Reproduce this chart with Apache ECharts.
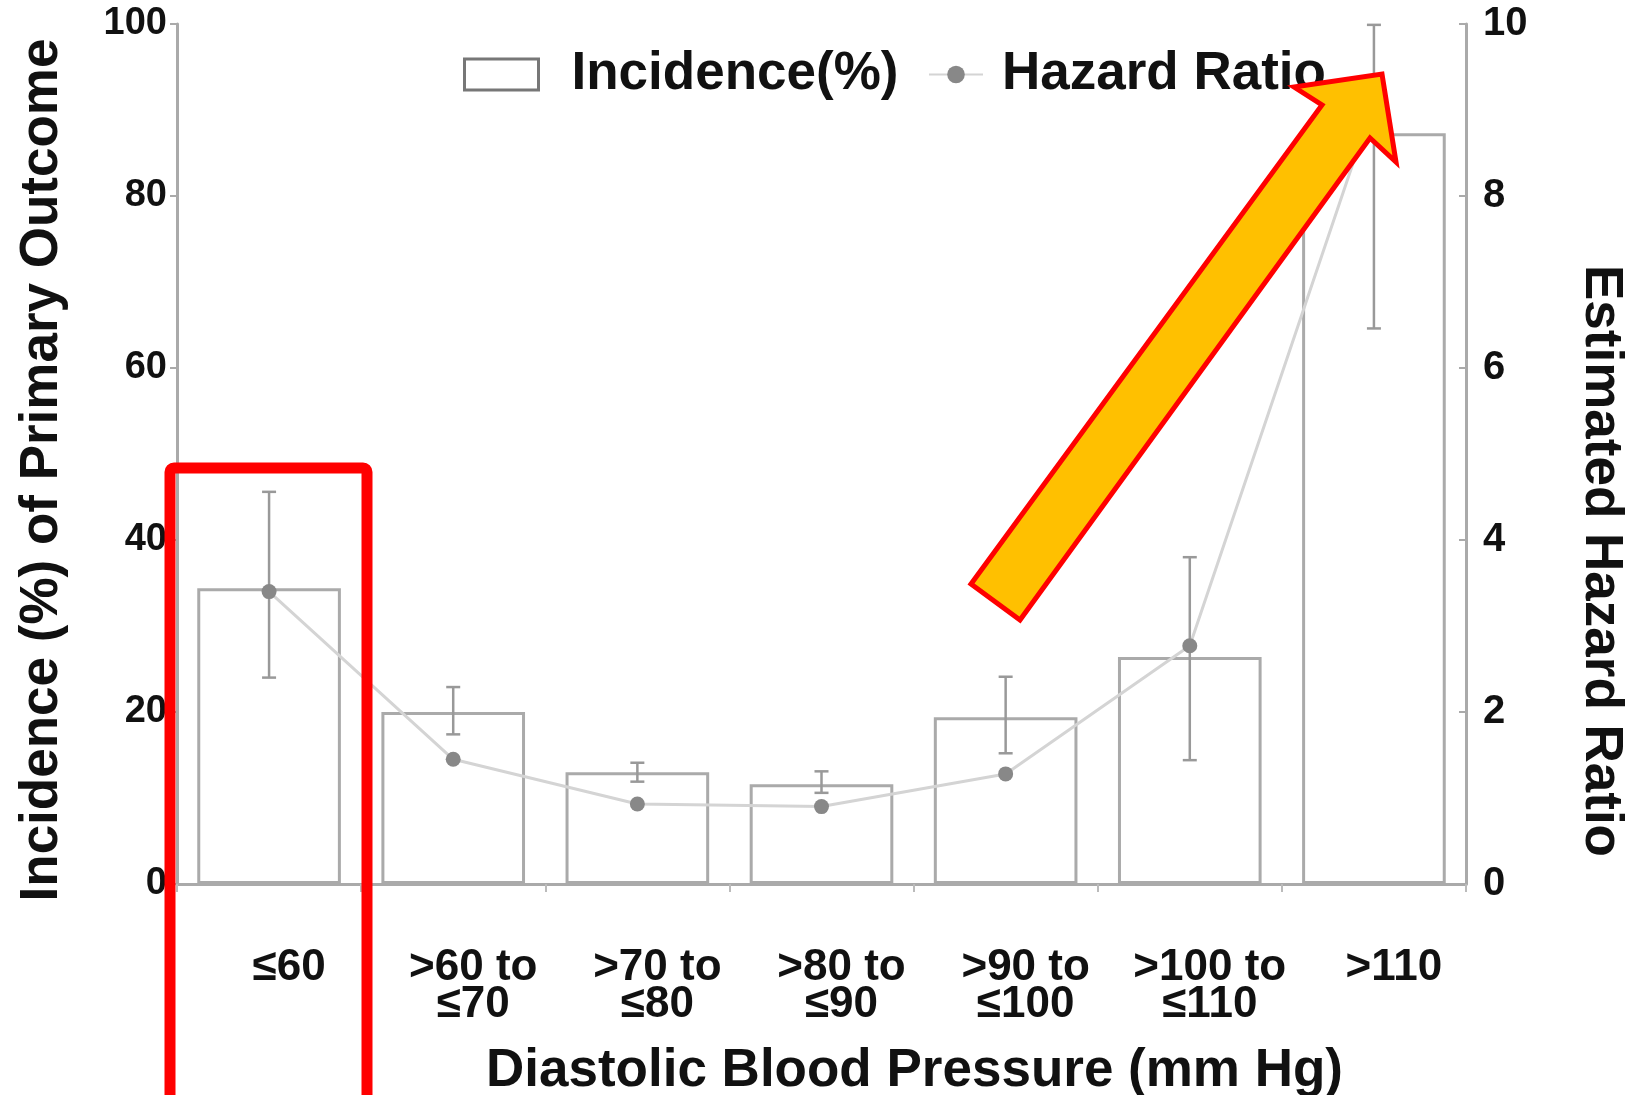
<!DOCTYPE html>
<html><head><meta charset="utf-8">
<script src="https://cdn.jsdelivr.net/npm/echarts@6/dist/echarts.min.js"></script>
<style>html,body{margin:0;padding:0;background:#fff;}#c{width:1629px;height:1095px;}</style>
</head><body><div id="c"></div>
<script>
const categories = ['≤60', '>60 to\n≤70', '>70 to\n≤80', '>80 to\n≤90', '>90 to\n≤100', '>100 to\n≤110', '>110'];
const incidence = [34.4, 20.0, 13.0, 11.6, 19.4, 26.4, 87.3];
const incidenceLow = [24.0, 17.4, 11.9, 10.6, 15.2, 14.4, 64.6];
const incidenceHigh = [45.6, 22.9, 14.1, 13.1, 24.1, 38.0, 99.9];
const hazardRatio = [3.4, 1.45, 0.93, 0.9, 1.28, 2.77, 9.1];
const leftTicks = [0, 20, 40, 60, 80, 100];
const rightTicks = [0, 2, 4, 6, 8, 10];

const FONT = 'Liberation Sans, Arial, sans-serif';
const chart = echarts.init(document.getElementById('c'));
const errData = categories.map((c, i) => [i, incidenceLow[i], incidenceHigh[i]]);

chart.setOption({
  animation: false,
  backgroundColor: '#fff',
  grid: { left: 177, right: 163, top: 24, bottom: 211, containLabel: false, outerBoundsMode: 'none' },
  legend: [
    { data: [{ name: 'Incidence(%)', icon: 'rect', itemStyle: { color: '#fff', borderColor: '#777', borderWidth: 3 } }],
      left: 458, top: 43, itemWidth: 74, itemHeight: 31,
      textStyle: { fontFamily: FONT, fontWeight: 'bold', fontSize: 53, color: '#111', padding: [0, 0, 0, 28] } },
    { data: ['Hazard Ratio'], left: 923, top: 43, itemWidth: 54, itemHeight: 22,
      textStyle: { fontFamily: FONT, fontWeight: 'bold', fontSize: 53, color: '#111', padding: [0, 0, 0, 14] } }
  ],
  xAxis: {
    type: 'category', data: categories,
    axisLine: { lineStyle: { color: '#aaa', width: 3 } },
    axisTick: { show: true, length: 8, lineStyle: { color: '#bbb', width: 2 } },
    axisLabel: { interval: 0, margin: 65, fontFamily: FONT, fontWeight: 'bold', fontSize: 44, color: '#111', lineHeight: 37, padding: [0, 0, 0, 40] },
    name: 'Diastolic Blood Pressure (mm Hg)', nameLocation: 'middle', nameGap: 161,
    nameTextStyle: { fontFamily: FONT, fontWeight: 'bold', fontSize: 53, color: '#111', padding: [0, 0, 0, 186] }
  },
  yAxis: [
    { type: 'value', min: leftTicks[0], max: leftTicks[leftTicks.length - 1], interval: 20,
      splitLine: { show: false },
      axisLine: { show: true, lineStyle: { color: '#aaa', width: 3 } },
      axisTick: { show: true, length: 7, lineStyle: { color: '#aaa', width: 2 } },
      axisLabel: { margin: 10, fontFamily: FONT, fontWeight: 'bold', fontSize: 38, color: '#111', padding: [16, 0, 0, 0] },
      name: 'Incidence (%) of Primary Outcome', nameLocation: 'middle', nameGap: 108,
      nameTextStyle: { fontFamily: FONT, fontWeight: 'bold', fontSize: 53, color: '#111', padding: [0, 32, 0, 0] }
    },
    { type: 'value', min: rightTicks[0], max: rightTicks[rightTicks.length - 1], interval: 2,
      position: 'right', splitLine: { show: false },
      axisLine: { show: true, lineStyle: { color: '#aaa', width: 3 } },
      axisTick: { show: true, inside: true, length: 7, lineStyle: { color: '#aaa', width: 2 } },
      axisLabel: { margin: 17, fontFamily: FONT, fontWeight: 'bold', fontSize: 40, color: '#111', padding: [24, 0, 0, 0] },
      name: 'Estimated Hazard Ratio', nameLocation: 'middle', nameGap: 108, nameRotate: -90,
      nameTextStyle: { fontFamily: FONT, fontWeight: 'bold', fontSize: 53, color: '#111', padding: [0, 0, 0, 214] }
    }
  ],
  series: [
    { name: 'Incidence(%)', type: 'bar', data: incidence, barCategoryGap: '22%',
      itemStyle: { color: '#fff', borderColor: '#aaa', borderWidth: 3 } },
    { name: 'CI', type: 'custom', data: errData, z: 3,
      renderItem: function (params, api) {
        const i = api.value(0);
        const lo = api.coord([i, api.value(1)]);
        const hi = api.coord([i, api.value(2)]);
        const w = 7;
        const st = { stroke: '#999', lineWidth: 2.5 };
        return { type: 'group', children: [
          { type: 'line', shape: { x1: lo[0], y1: lo[1], x2: hi[0], y2: hi[1] }, style: st },
          { type: 'line', shape: { x1: lo[0] - w, y1: lo[1], x2: lo[0] + w, y2: lo[1] }, style: st },
          { type: 'line', shape: { x1: hi[0] - w, y1: hi[1], x2: hi[0] + w, y2: hi[1] }, style: st }
        ] };
      }
    },
    { name: 'Hazard Ratio', type: 'line', yAxisIndex: 1, data: hazardRatio, z: 4,
      symbol: 'circle', symbolSize: 15,
      lineStyle: { color: '#d4d4d4', width: 3 },
      itemStyle: { color: '#888' } }
  ],
  graphic: [
    { type: 'rect', z: 100, shape: { x: 170, y: 468, width: 197, height: 700, r: 4 },
      style: { fill: 'none', stroke: '#ff0000', lineWidth: 11 } },
    { type: 'polygon', z: 100,
      shape: { points: [[971, 584], [1322, 105], [1294, 87], [1382, 74], [1396, 162], [1370, 138], [1020, 620]] },
      style: { fill: '#FFC000', stroke: '#ff0000', lineWidth: 5 } }
  ]
});
</script></body></html>
